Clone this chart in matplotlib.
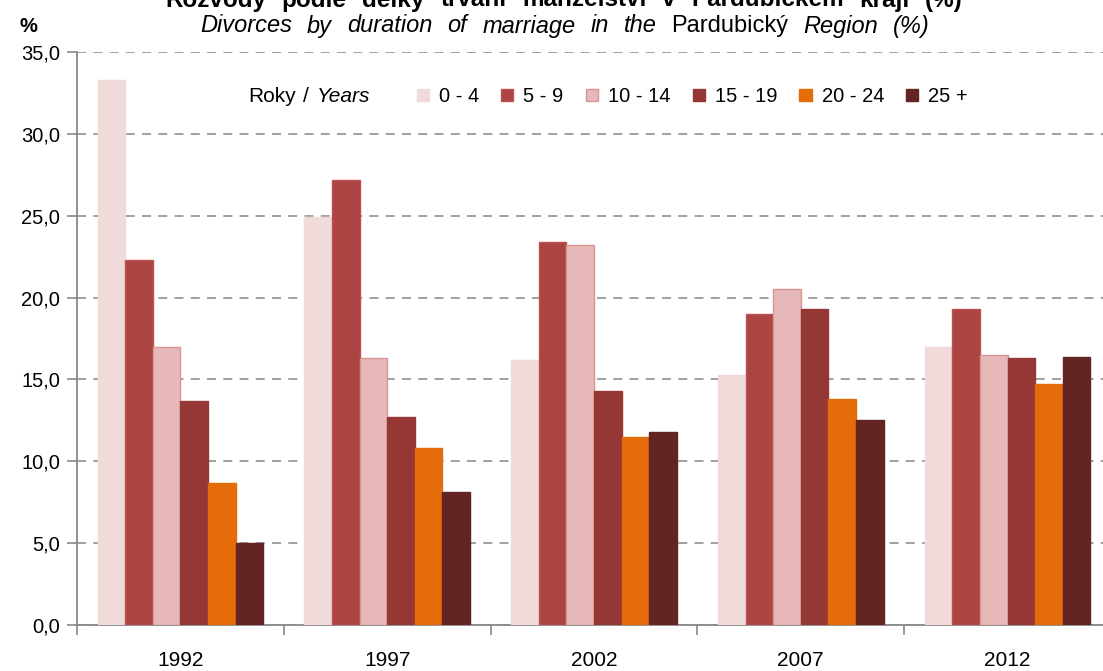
import numpy as np
import matplotlib.pyplot as plt
from matplotlib.patches import Patch

plt.rcParams['font.family'] = ['Liberation Sans', 'DejaVu Sans']

# Data
years = ['1992', '1997', '2002', '2007', '2012']
groups = ['0 - 4', '5 - 9', '10 - 14', '15 - 19', '20 - 24', '25 +']
d_0_4 = [33.3, 24.9, 16.2, 15.3, 17.0]
d_5_9 = [22.3, 27.2, 23.4, 19.0, 19.3]
d_10_14 = [17.0, 16.3, 23.2, 20.5, 16.5]
d_15_19 = [13.7, 12.7, 14.3, 19.3, 16.3]
d_20_24 = [8.7, 10.8, 11.5, 13.8, 14.7]
d_25 = [5.0, 8.1, 11.8, 12.5, 16.4]
series = [d_0_4, d_5_9, d_10_14, d_15_19, d_20_24, d_25]

colors = ['#F0DADA', '#AA4544', '#E6B8B7', '#953735', '#E46C0A', '#632523']
edges = ['#F0DADA', '#C0504D', '#D99594', '#953735', '#E46C0A', '#632523']

W, H = 1103, 671
fig = plt.figure(figsize=(W / 100, H / 100), dpi=100)
ax = fig.add_axes([77 / W, 46 / H, 1034 / W, 573 / H])

x = np.arange(len(years))
w = 0.8 / len(groups)
for i, vals in enumerate(series):
    ax.bar(x - 0.4 + w * (i + 0.5), vals, width=w, color=colors[i],
           edgecolor=edges[i], linewidth=1, zorder=3)

ax.set_xlim(-0.5, 4.5)
ax.set_ylim(0, 35)
ax.set_yticks(np.arange(0, 36, 5))
ax.set_yticklabels([f'{v:.1f}'.replace('.', ',') for v in np.arange(0, 36, 5)])
ax.set_xticks(x)
ax.set_xticklabels(years)
ax.set_xticks(np.arange(-0.5, 5, 1), minor=True)
ax.tick_params(axis='x', which='major', length=0, pad=19, labelsize=15)
ax.tick_params(axis='x', which='minor', length=7, color='#888888', width=1.2)
ax.tick_params(axis='y', length=7, color='#888888', width=1.2, labelsize=14.5, pad=5)

ax.yaxis.grid(True, linestyle=(0, (5, 4)), color='#999999', linewidth=1.3, zorder=0)
for s in ['top', 'right']:
    ax.spines[s].set_visible(False)
for s in ['left', 'bottom']:
    ax.spines[s].set_color('#888888')
    ax.spines[s].set_linewidth(1.3)

# legend
handles = [Patch(facecolor=colors[i], edgecolor=edges[i]) for i in range(len(groups))]
ax.legend(handles, groups, ncol=6, loc='center left', bbox_to_anchor=(0.311, 0.922),
          frameon=False, fontsize=14.5, handlelength=0.6, handleheight=0.6,
          handletextpad=0.5, columnspacing=1.1)

fig.canvas.draw()
r = fig.canvas.get_renderer()


# spread words between two x positions (pixels), like the wide original text
def place_words(words, x0, x1, y, size, weight='normal'):
    txts = [fig.text(0, 1 - y / H, wd, fontsize=size, style=st, fontweight=weight, va='center')
            for wd, st in words]
    widths = [t.get_window_extent(r).width for t in txts]
    gap = (x1 - x0 - sum(widths)) / (len(txts) - 1)
    xp = x0
    for t, wd in zip(txts, widths):
        t.set_x(xp / W)
        xp += wd + gap


place_words([('Roky', 'normal'), ('/', 'normal'), ('Years', 'italic')], 248, 370, 97, 15)

# titles
title = 'Rozvody podle délky trvání manželství v Pardubickém kraji (%)'
place_words([(wd, 'normal') for wd in title.split()], 165, 963, 0, 17.5, weight='bold')
sub = [('Divorces', 'italic'), ('by', 'italic'), ('duration', 'italic'), ('of', 'italic'),
       ('marriage', 'italic'), ('in', 'italic'), ('the', 'italic'), ('Pardubický', 'normal'),
       ('Region', 'italic'), ('(%)', 'italic')]
place_words(sub, 200, 930, 26, 17)
fig.text(20 / W, 1 - 26 / H, '%', fontsize=14.5, fontweight='bold', va='center')

fig.savefig('out.png', dpi=100)
